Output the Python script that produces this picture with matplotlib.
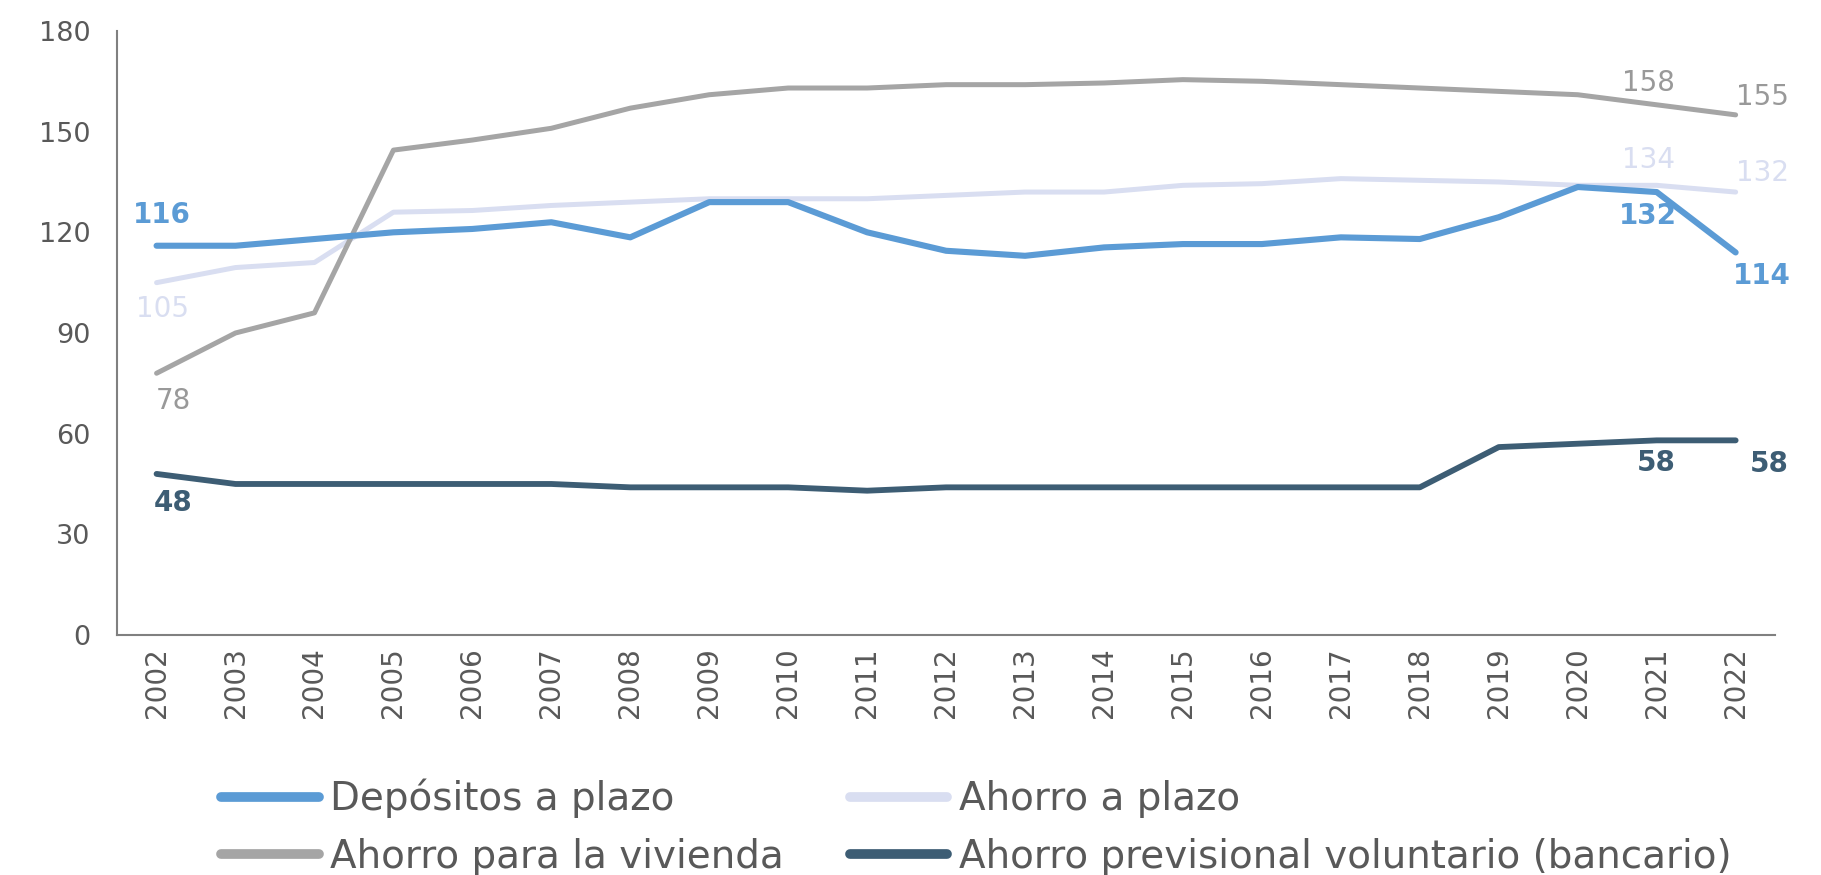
import matplotlib
matplotlib.use("Agg")
import matplotlib.pyplot as plt

years = list(range(2002, 2023))

depositos = [116, 116, 118, 120, 121, 123, 118.5, 129, 129, 120, 114.5, 113,
             115.5, 116.5, 116.5, 118.5, 118, 124.5, 133.5, 132, 114]
ahorro_plazo = [105, 109.5, 111, 126, 126.5, 128, 129, 130, 130, 130, 131, 132,
                132, 134, 134.5, 136, 135.5, 135, 134, 134, 132]
vivienda = [78, 90, 96, 144.5, 147.5, 151, 157, 161, 163, 163, 164, 164,
            164.5, 165.5, 165, 164, 163, 162, 161, 158, 155]
previsional = [48, 45, 45, 45, 45, 45, 44, 44, 44, 43, 44, 44,
               44, 44, 44, 44, 44, 56, 57, 58, 58]

names = ["Depósitos a plazo", "Ahorro a plazo",
         "Ahorro para la vivienda", "Ahorro previsional voluntario (bancario)"]

BLUE = "#5B9BD5"
LAV = "#D9DEF1"
GRAY = "#A5A5A5"
DARK = "#3D5D74"

fig = plt.figure(figsize=(18.21, 8.75), dpi=100)
ax = fig.add_axes([0.0643, 0.2743, 0.9105, 0.6903])

l1, = ax.plot(years, depositos, color=BLUE, lw=4.4, solid_capstyle="round", zorder=4)
l2, = ax.plot(years, ahorro_plazo, color=LAV, lw=3.6, solid_capstyle="round", zorder=2)
l3, = ax.plot(years, vivienda, color=GRAY, lw=3.6, solid_capstyle="round", zorder=3)
l4, = ax.plot(years, previsional, color=DARK, lw=4.2, solid_capstyle="round", zorder=3)

ax.set_xlim(2001.5, 2022.5)
ax.set_ylim(0, 180)
ax.set_yticks(range(0, 181, 30))
ax.set_xticks(years)
ax.set_xticklabels([str(y) for y in years], rotation=90)
for s in ("top", "right"):
    ax.spines[s].set_visible(False)
for s in ("left", "bottom"):
    ax.spines[s].set_color("#808080")
    ax.spines[s].set_linewidth(1.5)
ax.tick_params(axis="y", length=0, pad=19, labelsize=19.5, labelcolor="#595959")
ax.tick_params(axis="x", length=0, pad=9, labelsize=20, labelcolor="#595959")


def lab(x, y, dx, dy, color, bold=False):
    ax.annotate(f"{y:.0f}", xy=(x, y), xytext=(dx, dy), textcoords="offset points",
                ha="center", va="center", fontsize=20, color=color,
                fontweight="bold" if bold else "normal", zorder=6)


lab(2002, depositos[0], 4, 22, BLUE, True)
lab(2002, ahorro_plazo[0], 4, -19, LAV)
lab(2002, vivienda[0], 12, -20, "#999999")
lab(2002, previsional[0], 12, -21, DARK, True)
lab(2021, vivienda[-2], -6, 16, "#999999")
lab(2022, vivienda[-1], 19, 13, "#999999")
lab(2021, ahorro_plazo[-2], -6, 18, LAV)
lab(2022, ahorro_plazo[-1], 19, 14, LAV)
lab(2021, depositos[-2], -6, -17, BLUE, True)
lab(2022, depositos[-1], 19, -17, BLUE, True)
lab(2021, previsional[-2], 0, -16, DARK, True)
lab(2022, previsional[-1], 24, -17, DARK, True)

# column-major fill -> reorder so rows read left to right
leg = fig.legend([l1, l3, l2, l4], [names[0], names[2], names[1], names[3]],
                 ncol=2, loc="upper left",
                 bbox_to_anchor=(0.1216, 0.11), frameon=False, fontsize=28,
                 handlelength=2.5, handletextpad=0.3, columnspacing=1.7,
                 labelspacing=0.5, borderaxespad=0, borderpad=0)
for h in leg.legend_handles:
    h.set_linewidth(7)
for t in leg.get_texts():
    t.set_color("#595959")

fig.savefig("out.png", dpi=100)
